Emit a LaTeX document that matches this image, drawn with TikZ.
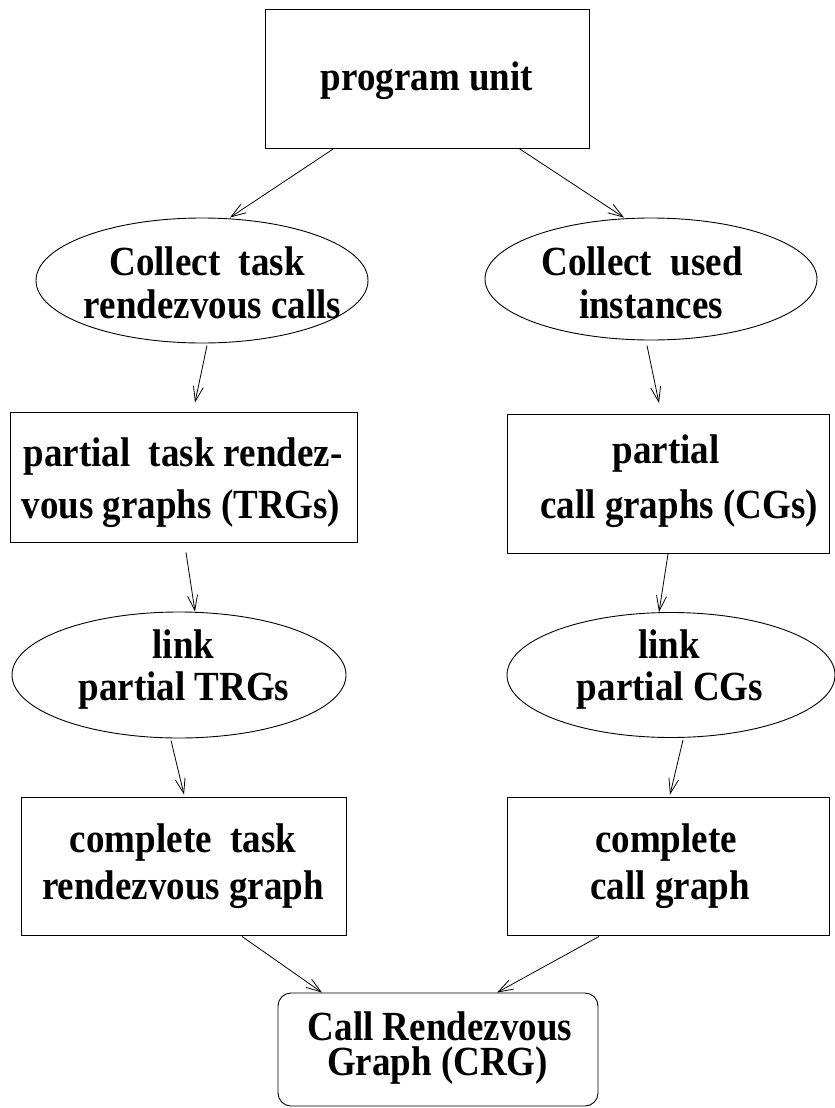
\documentclass[tikz,border=0pt]{standalone}
\usepackage{fontspec}
\usepackage{graphicx}
\setmainfont{Liberation Serif}
\usetikzlibrary{shapes.geometric,arrows.meta,calc}

% slightly tall bold lettering
\newcommand\tallbf[1]{\scalebox{1}[1.12]{#1}}

\tikzset{
  boxnode/.style={draw, line width=0.9pt, rectangle, inner sep=0pt},
  ovalnode/.style={draw, line width=0.9pt, ellipse, inner sep=0pt},
  roundnode/.style={draw, line width=0.9pt, rectangle, rounded corners=13pt, inner sep=0pt},
  txt/.style={inner sep=0pt, anchor=base, font=\fontsize{37}{43}\selectfont\bfseries},
  arr/.style={line width=0.8pt, -{Straight Barb[length=15pt,width=10pt]}}
}

\begin{document}
\begin{tikzpicture}[x=1pt,y=-1pt]
\useasboundingbox (0,0) rectangle (835,1108);

% shapes
\node[boxnode, minimum width=324pt, minimum height=139pt] (pu) at (427,78.5) {};
\node[ovalnode, minimum width=332pt, minimum height=125pt] (ct) at (202,280.5) {};
\node[ovalnode, minimum width=332pt, minimum height=122pt] (cu) at (651,279) {};
\node[boxnode, minimum width=347pt, minimum height=130pt] (ptb) at (183.5,477) {};
\node[boxnode, minimum width=322pt, minimum height=139pt] (pcb) at (668,484) {};
\node[ovalnode, minimum width=334pt, minimum height=126pt] (lt) at (179,675) {};
\node[ovalnode, minimum width=328pt, minimum height=125pt] (lc) at (671,675) {};
\node[boxnode, minimum width=325pt, minimum height=138pt] (ctb) at (183.5,866) {};
\node[boxnode, minimum width=322pt, minimum height=138pt] (ccb) at (668,866) {};
\node[roundnode, minimum width=320pt, minimum height=113pt] (crg) at (438,1049.5) {};

% labels
\node[txt] (pu1) at (427,90) {\tallbf{program unit}};
\node[txt] (ct1) at (207,275) {\tallbf{Collect\ \ task}};
\node[txt] (ct2) at (212.5,318) {\tallbf{rendezvous calls}};
\node[txt] (cu1) at (642,275) {\tallbf{Collect\ \ used}};
\node[txt] (cu2) at (651,318) {\tallbf{instances}};
\node[txt] (pt1) at (183,466) {\tallbf{partial\ \ task rendez-}};
\node[txt] (pt2) at (181,518) {\tallbf{vous graphs (TRGs)}};
\node[txt] (pc1) at (666,463) {\tallbf{partial}};
\node[txt] (pc2) at (679,518) {\tallbf{call graphs (CGs)}};
\node[txt] (lt1) at (183.5,658) {\tallbf{link}};
\node[txt] (lt2) at (184,700) {\tallbf{partial TRGs}};
\node[txt] (lc1) at (669,658) {\tallbf{link}};
\node[txt] (lc2) at (670,700) {\tallbf{partial CGs}};
\node[txt] (cb1) at (183,852) {\tallbf{complete\ \ task}};
\node[txt] (cb2) at (183,899) {\tallbf{rendezvous graph}};
\node[txt] (cc1) at (666,852) {\tallbf{complete}};
\node[txt] (cc2) at (670,899) {\tallbf{call graph}};
\node[txt] (cr1) at (440,1040) {\tallbf{Call Rendezvous}};
\node[txt] (cr2) at (437.5,1075) {\tallbf{Graph (CRG)}};

% connectors
\draw[arr] ($(pu.south)+(-93,0)$) -- ($(ct.north)+(28,0)$);
\draw[arr] ($(pu.south)+(92,0)$) -- ($(cu.north)+(-27,0)$);
\draw[arr] ($(ct.south)+(5,2)$) -- ($(ptb.north)+(11.5,-9)$);
\draw[arr] ($(cu.south)+(-4,5)$) -- ($(pcb.north)+(-9,-11)$);
\draw[arr] ($(ptb.south)+(2.5,10)$) -- ($(lt.north)+(16,0)$);
\draw[arr] (pcb.south) -- ($(lc.north)+(-12,0)$);
\draw[arr] ($(lt.south)+(-8,2)$) -- ($(ctb.north)+(0.5,-2)$);
\draw[arr] ($(lc.south)+(12,2)$) -- ($(ccb.north)+(2,-2)$);
\draw[arr] ($(ctb.south)+(58.5,1)$) -- ($(crg.north)+(-116,0)$);
\draw[arr] ($(ccb.south)+(-69,1)$) -- ($(crg.north)+(59,0)$);
\end{tikzpicture}
\end{document}
